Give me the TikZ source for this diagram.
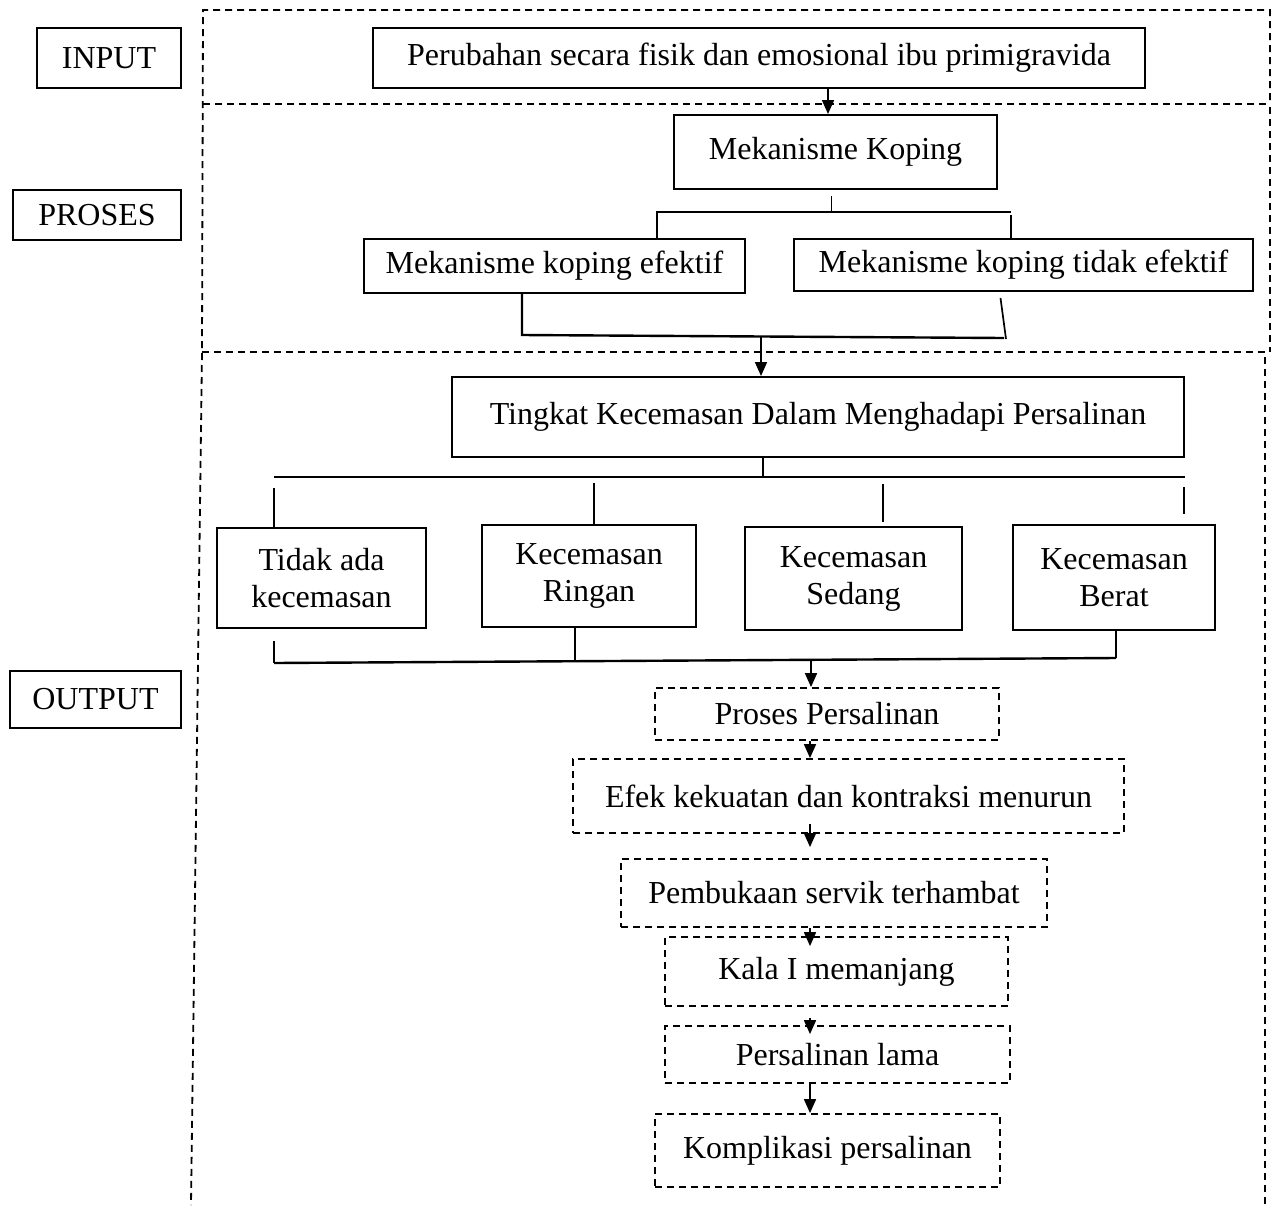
\documentclass[tikz,border=0pt]{standalone}
\usepackage{fontspec}
\setmainfont{Liberation Serif}
\usetikzlibrary{arrows.meta,calc}

\begin{document}
\begin{tikzpicture}[x=1pt, y=-1pt, >={Triangle[length=14pt,width=12pt]},
    every node/.style={font=\fontsize{32}{37}\selectfont},
    box/.style={draw, line width=2pt, inner sep=0pt, align=center},
    dbox/.style={box, dash pattern=on 7pt off 5pt, line width=1.8pt},
    zone/.style={line width=1.8pt, dash pattern=on 7pt off 5pt},
    link/.style={line width=1.7pt},
    bar/.style={line width=2.4pt}]
    \useasboundingbox (0,0) rectangle (1274,1205);

    % labels on the left
    \node[box, minimum width=144pt, minimum height=60pt] (input) at (109,58) {INPUT};
    \node[box, minimum width=168pt, minimum height=50pt] (proses) at (97,215) {PROSES};
    \node[box, minimum width=171pt, minimum height=57pt] (output) at (95.5,699.5) {OUTPUT};

    % dashed frames
    \draw[zone] (1270,100) -- (1270,10) -- (203,10) -- (202,352) -- (191,1205);
    \draw[zone] (203,104) -- (1270,104);
    \draw[zone] (1270,107) -- (1270,352);
    \draw[zone] (202,352) -- (1265,352) -- (1265,1205);

    % input and coping
    \node[box, minimum width=772pt, minimum height=60pt] (perubahan) at (759,58) {Perubahan secara fisik dan emosional ibu primigravida};
    \node[box, minimum width=323pt, minimum height=74pt] (koping) at (835.5,152) {Mekanisme Koping};
    \node[box, minimum width=381pt, minimum height=54pt] (efektif) at (554.5,266) {Mekanisme koping efektif};
    \node[box, minimum width=459pt, minimum height=52pt] (tidakef) at (1023.5,265) {Mekanisme koping tidak efektif};

    \coordinate (ax) at (828,0);
    \draw[link,->] (perubahan.south -| ax) -- (koping.north -| ax);

    % split into the two coping boxes
    \coordinate (kL) at (657,212);
    \coordinate (kR) at (1011,212);
    \draw[link] (koping.south) ++(-4,6) -- ++(0,17);
    \draw[link] (efektif.north -| kL) -- (kL) -- (kR);
    \draw[link] (kR) ++(0,3) -- (tidakef.north -| kR);

    % join below the coping boxes
    \coordinate (mL) at (522,335);
    \coordinate (mR) at (1004,338);
    \coordinate (mC) at (761,336);
    \draw[bar] (efektif.south -| mL) -- (mL) -- (mR);
    \draw[link] (tidakef.south) ++(-23,6) -- ($(mR)+(2,1)$);

    % level of anxiety
    \node[box, minimum width=732pt, minimum height=80pt] (tingkat) at (818,417) {Tingkat Kecemasan Dalam Menghadapi Persalinan};
    \draw[link,->] (mC) -- (tingkat.north -| mC);

    \node[box, minimum width=209pt, minimum height=100pt] (tidakada) at (321.5,578) {Tidak ada\\kecemasan};
    \node[box, minimum width=214pt, minimum height=102pt] (ringan) at (589,576) {Kecemasan\\Ringan};
    \node[box, minimum width=217pt, minimum height=103pt] (sedang) at (853.5,578.5) {Kecemasan\\Sedang};
    \node[box, minimum width=202pt, minimum height=105pt] (berat) at (1114,577.5) {Kecemasan\\Berat};

    \coordinate (tL) at (274,477);
    \coordinate (tR) at (1185,477);
    \draw[link] (tingkat.south) ++(-55,0) -- ++(0,20);
    \draw[bar] (tL) -- (tR);
    \foreach \b/\x/\ys/\g in {tidakada/274/488/-2, ringan/594/483/0, sedang/883/484/4, berat/1184/487/10}
        \draw[link] (\x,\ys) -- ($(\x,0 |- \b.north)+(0,-\g)$);

    % join below the anxiety levels
    \coordinate (bL) at (274,663);
    \coordinate (bR) at (1116,658);
    \coordinate (bM) at (575,661);
    \coordinate (bA) at (811,659);
    \draw[bar] (bL) -- (bR);
    \draw[link] ($(tidakada.south -| bL)+(0,12)$) -- (bL);
    \draw[link] (ringan.south -| bM) -- (bM);
    \draw[link] (berat.south -| bR) -- (bR);

    % course of labour
    \node[dbox, minimum width=344pt, minimum height=52pt] (persalinan) at (827,714) {Proses Persalinan};
    \node[dbox, minimum width=551pt, minimum height=74pt] (efek) at (848.5,796) {Efek kekuatan dan kontraksi menurun};
    \node[dbox, minimum width=426pt, minimum height=68pt] (pembukaan) at (834,893) {Pembukaan servik terhambat};
    \node[dbox, minimum width=343pt, minimum height=69pt] (kala) at (836.5,971.5) {Kala I memanjang};
    \node[dbox, minimum width=345pt, minimum height=57pt] (lama) at (837.5,1054.5) {Persalinan lama};
    \node[dbox, minimum width=345pt, minimum height=73pt] (komplikasi) at (827.5,1150.5) {Komplikasi persalinan};

    \coordinate (cx) at (810,0);
    \draw[link,->] (bA) -- (persalinan.north -| bA);
    \draw[link,->] (persalinan.south -| cx) -- (efek.north -| cx);
    \draw[link,->] ($(efek.south -| cx)+(0,-10)$) -- ($(pembukaan.north -| cx)+(0,-11)$);
    \draw[link,->] (pembukaan.south -| cx) -- ($(kala.north -| cx)+(0,10)$);
    \draw[link,->] ($(kala.south -| cx)+(0,11)$) -- ($(lama.north -| cx)+(0,9)$);
    \draw[link,->] (lama.south -| cx) -- (komplikasi.north -| cx);
\end{tikzpicture}
\end{document}
